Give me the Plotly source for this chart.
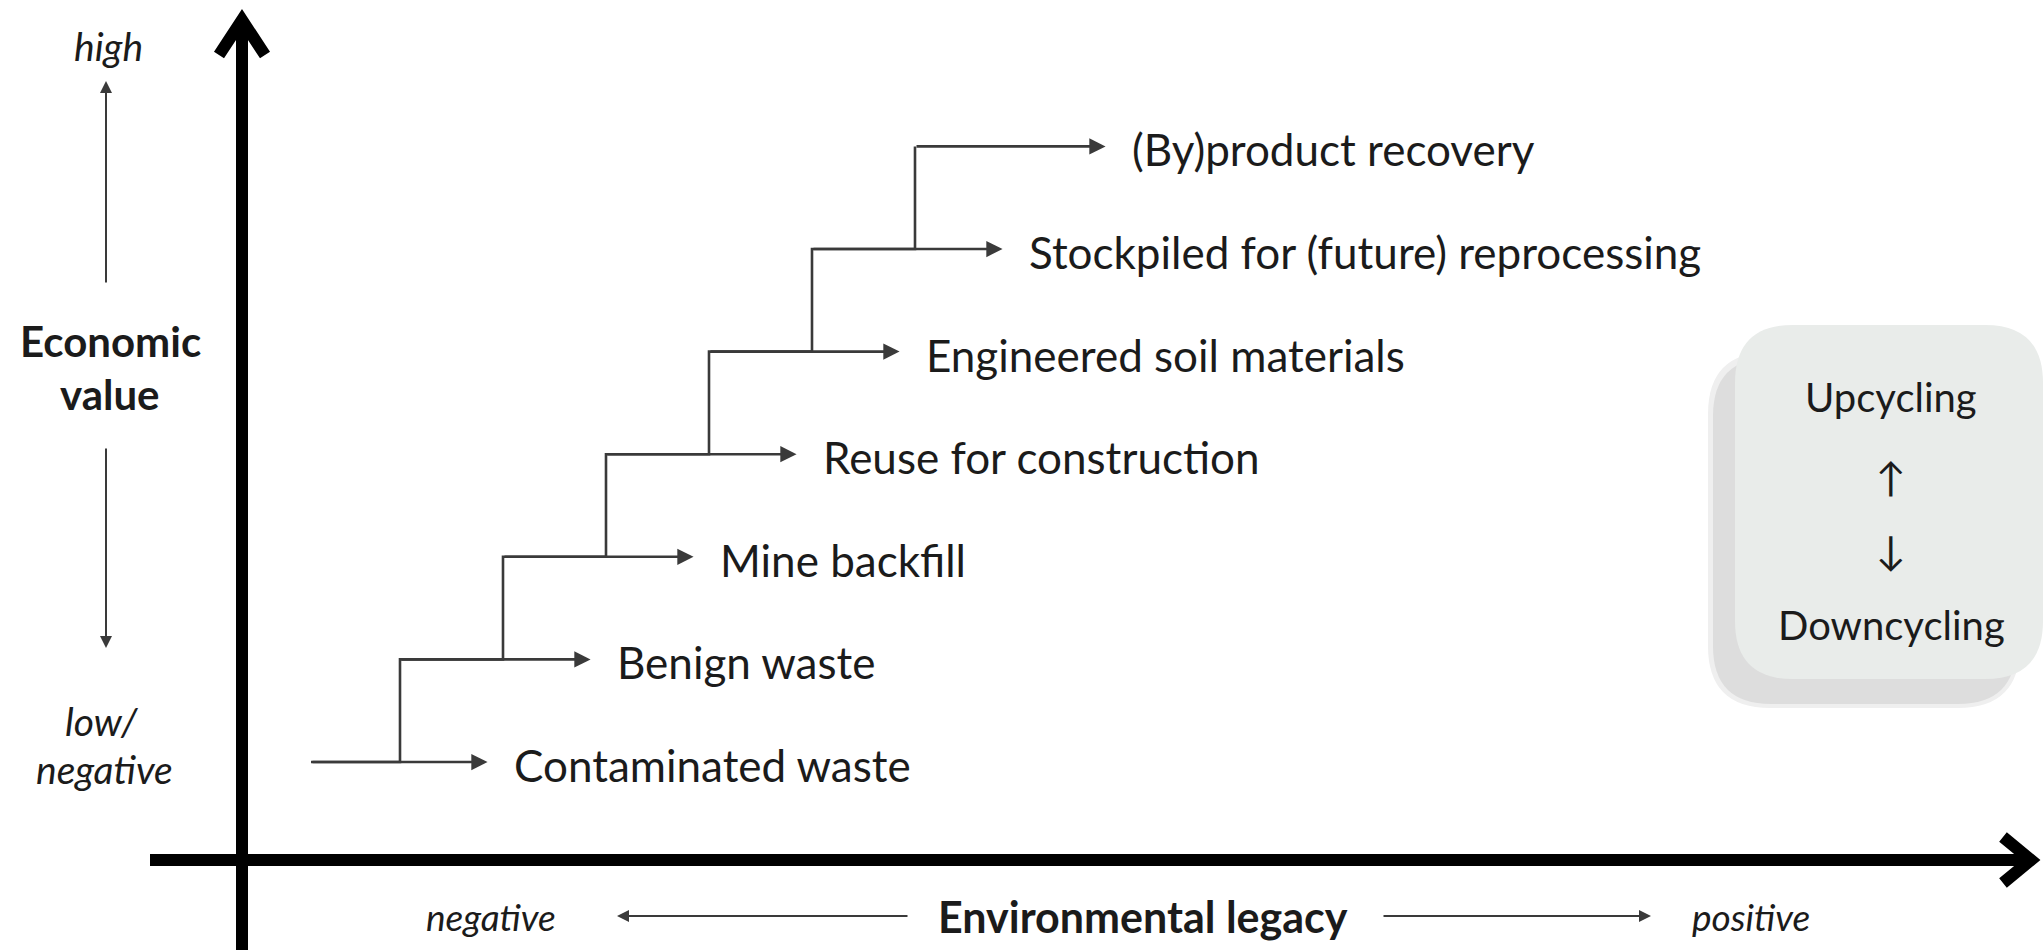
import plotly.graph_objects as go

# ---------------- data ----------------
categories = [
    "Contaminated waste",
    "Benign waste",
    "Mine backfill",
    "Reuse for construction",
    "Engineered soil materials",
    "Stockpiled for (future) reprocessing",
    "(By)product recovery",
]
economic_rank = [0, 1, 2, 3, 4, 5, 6]      # position on economic value axis
legacy_rank = [0, 1, 2, 3, 4, 5, 6]        # position on environmental legacy axis

y_axis_title = ["Economic", "value"]
y_axis_ends = ["high", "low/", "negative"]
x_axis_title = "Environmental legacy"
x_axis_ends = ["negative", "positive"]
box_lines = ["Upcycling", "↑", "↓", "Downcycling"]

# ---------------- style ----------------
W, H = 2044, 950
FONT = "Lato"
TXT = "#1b1b1b"
LINE = "#3a3a3a"
LEAD_IN = 0.136      # start offset of first branch
ARROW_LEN = 1.85     # length of each branch arrow (in step units)
LABEL_GAP = 0.24

# axis ranges chosen so one step = ~103 px
X_RANGE = [-297 / 103, (W - 297) / 103]
Y_RANGE = [(762 - H) / 102.6, 762 / 102.6]


def px(x):
    return x / W


def py(y):
    return 1 - y / H


fig = go.Figure()

# staircase (vertical risers + horizontal runs)
tails = [r + (LEAD_IN if i == 0 else 0) for i, r in enumerate(legacy_rank)]
fig.add_trace(go.Scatter(
    x=tails, y=economic_rank, mode="lines", line_shape="hv",
    line=dict(color=LINE, width=2.6), hoverinfo="skip", showlegend=False,
))

annotations = []
for cat, lx, ly, tx in zip(categories, legacy_rank, economic_rank, tails):
    tip = lx + ARROW_LEN
    annotations.append(dict(
        x=tip, y=ly, ax=tx, ay=ly, xref="x", yref="y", axref="x", ayref="y",
        text="", showarrow=True, arrowhead=2, arrowwidth=2.6, arrowsize=1.25,
        arrowcolor=LINE, standoff=0, startstandoff=0,
    ))
    annotations.append(dict(
        x=tip + LABEL_GAP, y=ly, xref="x", yref="y", text=cat,
        showarrow=False, xanchor="left", yanchor="middle", yshift=-3,
        font=dict(family=FONT, size=44, color=TXT),
    ))


def label(x, y, text, size):
    return dict(x=px(x), y=py(y), xref="paper", yref="paper", text=text,
                showarrow=False, xanchor="center", yanchor="middle",
                font=dict(family=FONT, size=size, color=TXT))


def thin_arrow(hx, hy, tx, ty):
    return dict(x=px(hx), y=py(hy), xref="paper", yref="paper",
                ax=tx - hx, ay=ty - hy, text="", showarrow=True, arrowhead=2,
                arrowwidth=2, arrowsize=1.2, arrowcolor=LINE, standoff=0,
                xanchor="center", yanchor="middle")


# ---- left (economic value) legend ----
annotations += [
    label(108, 46, "<i>%s</i>" % y_axis_ends[0], 39),
    label(110, 341, "<b>%s</b>" % y_axis_title[0], 42),
    label(110, 394, "<b>%s</b>" % y_axis_title[1], 42),
    label(102, 721, "<i>%s</i>" % y_axis_ends[1], 39),
    label(104, 769, "<i>%s</i>" % y_axis_ends[2], 39),
    thin_arrow(106, 81, 106, 284),
    thin_arrow(106, 648, 106, 447),
]

# ---- bottom (environmental legacy) legend ----
annotations += [
    label(491, 916, "<i>%s</i>" % x_axis_ends[0], 37),
    label(1143, 916, "<b>%s</b>" % x_axis_title, 43),
    label(1751, 916, "<i>%s</i>" % x_axis_ends[1], 37),
    thin_arrow(617, 916, 909, 916),
    thin_arrow(1651, 916, 1382, 916),
]

# ---- upcycling box text ----
for t, yy in zip(box_lines, [397, 477, 550, 625]):
    annotations.append(label(1891, yy, t, 40))


def path(points, close=False):
    s = "M " + " L ".join("%f,%f" % (px(x), py(y)) for x, y in points)
    return s + (" Z" if close else "")


def rrect(x0, y0, x1, y1, r):
    P = lambda x, y: "%f,%f" % (px(x), py(y))
    return (
        "M " + P(x0 + r, y0) + " L " + P(x1 - r, y0) + " Q " + P(x1, y0) + " " + P(x1, y0 + r)
        + " L " + P(x1, y1 - r) + " Q " + P(x1, y1) + " " + P(x1 - r, y1)
        + " L " + P(x0 + r, y1) + " Q " + P(x0, y1) + " " + P(x0, y1 - r)
        + " L " + P(x0, y0 + r) + " Q " + P(x0, y0) + " " + P(x0 + r, y0) + " Z"
    )


shapes = [
    # box shadow (soft)
    dict(type="path", xref="paper", yref="paper", path=rrect(1708, 352, 2020, 708, 62),
         fillcolor="#efefef", line=dict(width=0), layer="below"),
    dict(type="path", xref="paper", yref="paper", path=rrect(1713, 358, 2016, 704, 58),
         fillcolor="#dddddd", line=dict(width=0), layer="below"),
    # box
    dict(type="path", xref="paper", yref="paper", path=rrect(1735, 325, 2043, 679, 58),
         fillcolor="#e9ecea", line=dict(width=0), layer="below"),
    # vertical main axis
    dict(type="line", xref="paper", yref="paper", x0=px(242), x1=px(242), y0=py(952), y1=py(22),
         line=dict(color="black", width=12)),
    dict(type="path", xref="paper", yref="paper",
         path=path([(219, 55), (242, 20), (265, 55)]), line=dict(color="black", width=12)),
    # horizontal main axis
    dict(type="line", xref="paper", yref="paper", x0=px(150), x1=px(2030), y0=py(860), y1=py(860),
         line=dict(color="black", width=12)),
    dict(type="path", xref="paper", yref="paper",
         path=path([(2003, 837), (2031, 860), (2003, 883)]), line=dict(color="black", width=12)),
]

fig.update_layout(
    width=W, height=H,
    margin=dict(l=0, r=0, t=0, b=0),
    paper_bgcolor="white", plot_bgcolor="white",
    xaxis=dict(range=X_RANGE, visible=False, fixedrange=True),
    yaxis=dict(range=Y_RANGE, visible=False, fixedrange=True),
    showlegend=False, hovermode=False,
    annotations=annotations, shapes=shapes,
)

fig.write_html("out.html", post_script="document.body.style.margin='0';",
               config={"displayModeBar": False})
